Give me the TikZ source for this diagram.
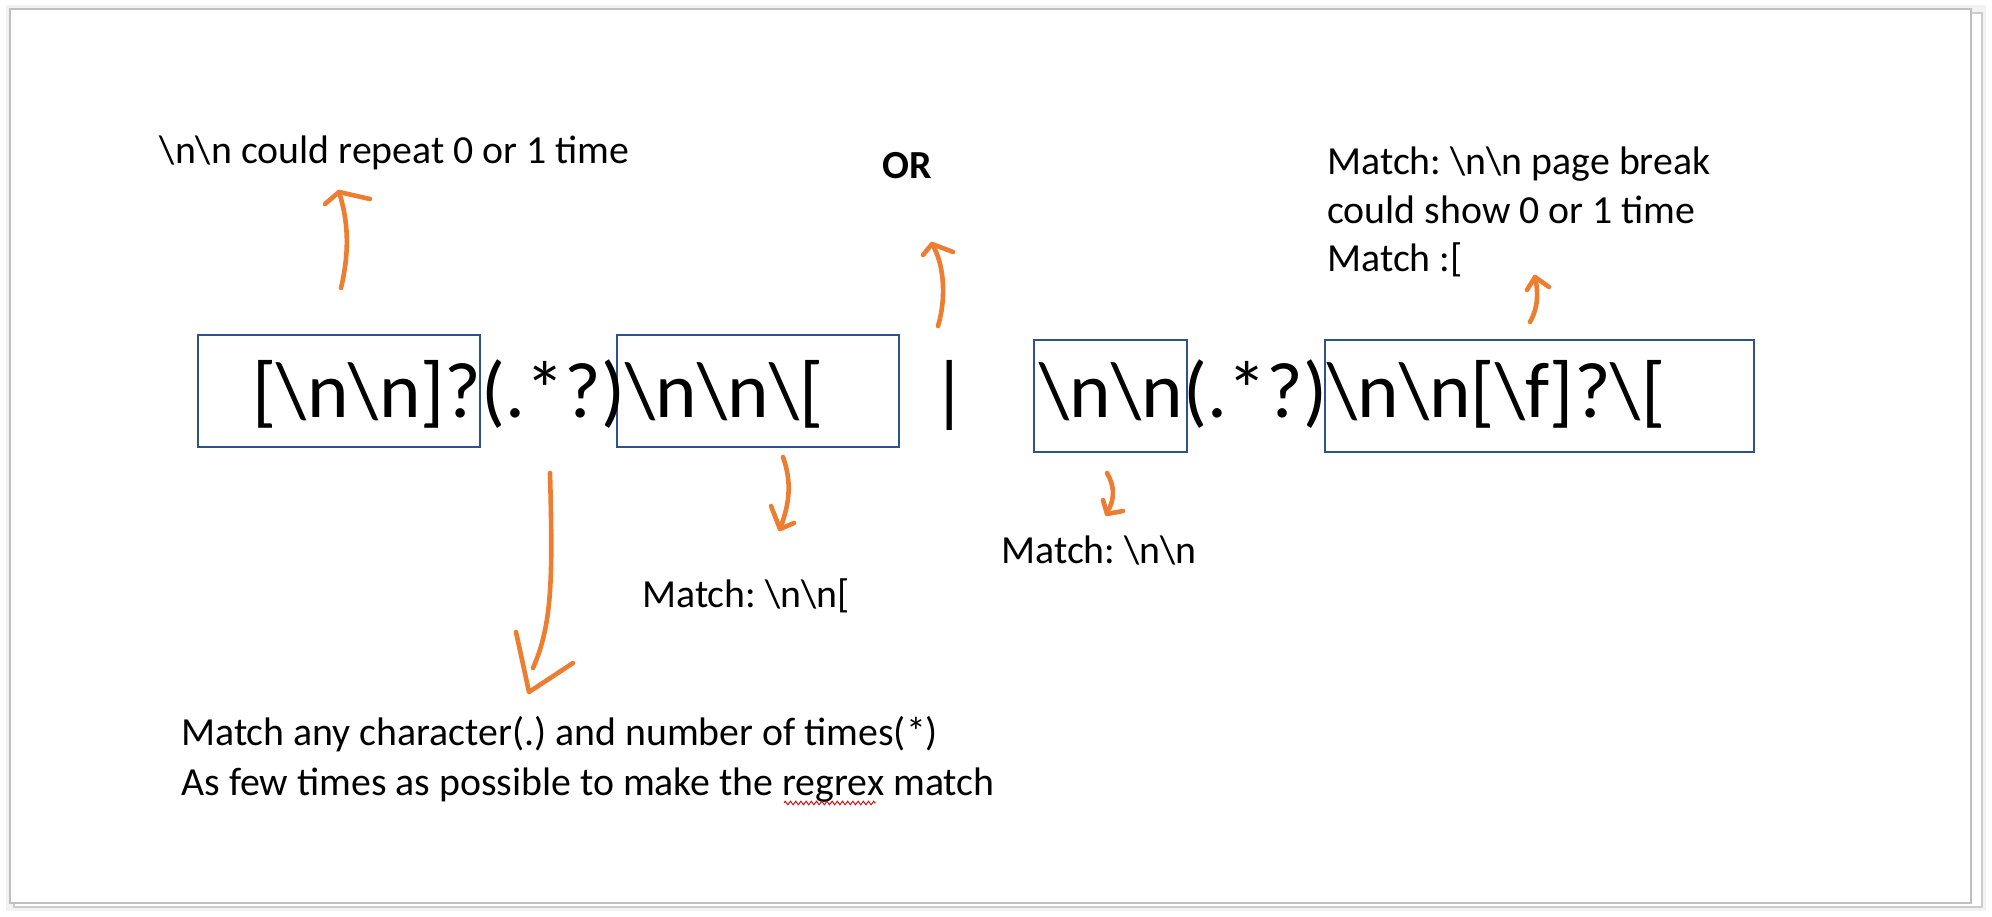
\documentclass[tikz,border=0pt]{standalone}
\usepackage{fontspec}
\setmainfont{Carlito}
\usetikzlibrary{decorations.pathmorphing}
\definecolor{boxblue}{HTML}{2F528F}
\definecolor{penorange}{HTML}{ED7D31}
\frenchspacing
\begin{document}
\frenchspacing
\begin{tikzpicture}[x=0.5pt,y=-0.5pt,
  regbox/.style={draw=boxblue, line width=1pt, minimum height=56pt, inner sep=0pt},
  bigtxt/.style={font=\fontsize{39.5}{48}\selectfont, inner sep=0pt, anchor=base west},
  note/.style={font=\fontsize{19.9}{24.5}\selectfont, inner sep=0pt, anchor=base west, align=left},
  pen/.style={draw=penorange, line width=2.3pt, line cap=round, line join=round}]
\useasboundingbox (0,0) rectangle (1992,916);
% page frame
\fill[gray!10] (6,5) rectangle (1986,911);
\draw[gray!40, line width=0.8pt, fill=white] (14,13) rectangle (1982,907);
\draw[gray!50, line width=1.1pt, fill=white] (10,9) rectangle (1971,903);
% boxes
\node[regbox, minimum width=141pt] (b1) at (339,391) {};
\node[regbox, minimum width=141pt] (b2) at (758,391) {};
\node[regbox, minimum width=76.5pt] (b3) at (1110.5,396) {};
\node[regbox, minimum width=214.5pt] (b4) at (1539.5,396) {};
% regex text
\node[bigtxt] (rl) at (252,417) {[\textbackslash n\textbackslash n]?(.*?)\textbackslash n\textbackslash n\textbackslash [};
\node[bigtxt, anchor=base] (bar) at (950,417) {|};
\node[bigtxt] (rr) at (1039,417) {\textbackslash n\textbackslash n(.*?)\textbackslash n\textbackslash n[\textbackslash f]?\textbackslash [};
% notes
\node[note, anchor=base east] (n1) at (630,163) {\textbackslash n\textbackslash n could repeat 0 or 1 time};
\node[note, anchor=base, font=\fontsize{19.9}{24.5}\selectfont\bfseries] (nor) at (907,178) {OR};
\node[note] (n4a) at (1327,174) {Match: \textbackslash n\textbackslash n page break};
\node[note] (n4b) at (1327,223) {could show 0 or 1 time};
\node[note] (n4c) at (1327,271) {Match :[};
\node[note] (n2) at (642,607) {Match: \textbackslash n\textbackslash n[};
\node[note] (n3) at (1001,563) {Match: \textbackslash n\textbackslash n};
\node[note] (n5a) at (181,745) {Match any character(.) and number of times(*)};
\node[note] (n5b) at (181,795) {As few times as possible to make the regrex match};
% spell-check squiggle
\draw[red!85!black, line width=0.45pt, decorate, decoration={zigzag, amplitude=0.9pt, segment length=2.6pt}] (784,803) -- (876,803);
% hand-drawn arrows
\coordinate (a1s) at (341,288); \coordinate (a1e) at (339,192);
\draw[pen] (a1s) .. controls (350,250) and (348,220) .. (a1e);
\draw[pen] (325,204) -- (a1e) -- (370,199);
\coordinate (a2s) at (938,326); \coordinate (a2e) at (932,244);
\draw[pen] (a2s) .. controls (946,300) and (945,265) .. (a2e);
\draw[pen] (923,255) -- (a2e) -- (953,252);
\coordinate (a3s) at (550,473); \coordinate (a3e) at (529,692);
\draw[pen] (a3s) .. controls (553,580) and (552,625) .. (533,668);
\draw[pen] (516,632) -- (a3e) -- (573,663);
\coordinate (a4s) at (783,457); \coordinate (a4e) at (780,529);
\draw[pen] (a4s) .. controls (791,480) and (791,500) .. (a4e);
\draw[pen] (771,506) -- (a4e) -- (794,523);
\coordinate (a5s) at (1107,473); \coordinate (a5e) at (1107,514);
\draw[pen] (a5s) .. controls (1114,485) and (1115,497) .. (1109,509);
\draw[pen] (1103,500) -- (a5e) -- (1123,511);
\coordinate (a6s) at (1530,322); \coordinate (a6e) at (1535,277);
\draw[pen] (a6s) .. controls (1539,306) and (1538,290) .. (a6e);
\draw[pen] (1527,290) -- (a6e) -- (1549,287);
\end{tikzpicture}
\end{document}
